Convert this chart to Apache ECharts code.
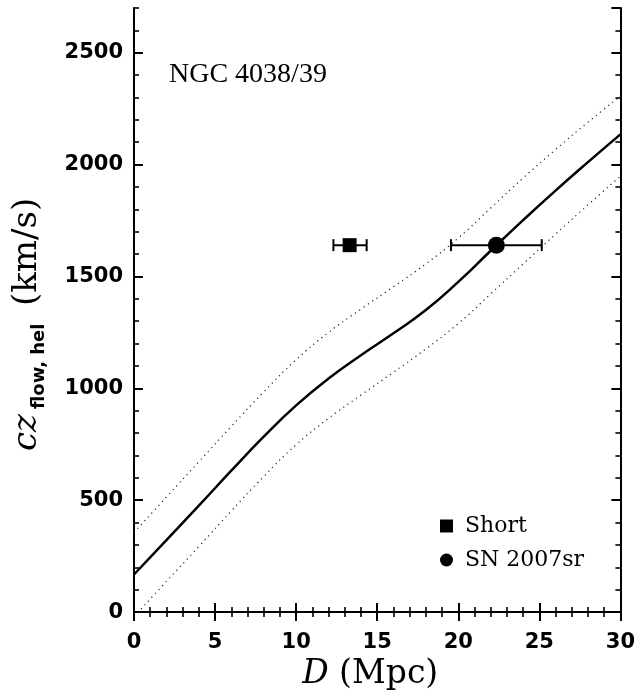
<!DOCTYPE html>
<html><head><meta charset="utf-8">
<script src="https://cdn.jsdelivr.net/npm/echarts@6/dist/echarts.min.js"></script>
<style>html,body{margin:0;padding:0;background:#fff}#c{width:638px;height:696px}</style>
</head><body><div id="c"></div>
<script>
// Flow model curve and its dispersion band (D in Mpc, cz in km/s)
const distance = [0, 2, 4, 6, 8, 10, 12, 14, 16, 18, 20, 22, 24, 26, 28, 30];
const czModel  = [168, 322, 476, 632, 784, 924, 1044, 1148, 1246, 1350, 1476, 1615, 1752, 1884, 2011, 2135];
const czUpper  = [356, 514, 672, 830, 984, 1128, 1250, 1354, 1454, 1556, 1672, 1806, 1940, 2067, 2190, 2306];
const czLower  = [-20, 137, 293, 452, 606, 748, 866, 970, 1072, 1176, 1290, 1422, 1556, 1689, 1820, 1948];

// Distance measurements
const pointNames = ['Short', 'SN 2007sr'];
const pointD     = [13.3, 22.35];
const pointDLow  = [12.3, 19.55];
const pointDHigh = [14.35, 25.15];
const pointCz    = [1640, 1640];

const xMin = 0, xMax = 30, xMajor = 5, xMinor = 1;
const yMin = 0, yMax = 2700, yMajor = 500, yMinor = 100;

const pairs = (xs, ys) => xs.map((x, i) => [x, ys[i]]);

const chart = echarts.init(document.getElementById('c'), null, {renderer: 'canvas'});

const axisLineStyle = {show: true, lineStyle: {color: '#000', width: 2}};
const labelFont = {fontFamily: 'DejaVu Sans', fontWeight: 'bold', fontSize: 21, color: '#000',
  formatter: v => String(v)};

function xAx(pos, labels) {
  return {
    type: 'value', position: pos, min: xMin, max: xMax, interval: xMajor,
    axisLine: axisLineStyle,
    axisTick: {show: true, inside: true, length: 9, lineStyle: {color: '#000', width: 2}},
    minorTick: {show: true, splitNumber: xMajor / xMinor, length: 5, lineStyle: {color: '#000', width: 1.6}},
    splitLine: {show: false}, minorSplitLine: {show: false},
    axisLabel: labels ? Object.assign({show: true, margin: 20}, labelFont) : {show: false},
    name: labels ? '{i|D} (Mpc)' : '',
    nameLocation: 'middle', nameGap: 44,
    nameTextStyle: {fontFamily: 'DejaVu Serif', fontSize: 33, color: '#000', padding: [0, 14, 0, 0],
      rich: {i: {fontFamily: 'DejaVu Serif', fontStyle: 'italic', fontSize: 33, color: '#000'}}}
  };
}
function yAx(pos, step, len, labels, line) {
  return {
    type: 'value', position: pos, min: yMin, max: yMax, interval: step,
    axisLine: line ? axisLineStyle : {show: false},
    axisTick: {show: true, inside: true, length: len, lineStyle: {color: '#000', width: len > 6 ? 2 : 1.6}},
    splitLine: {show: false},
    axisLabel: labels ? Object.assign({show: true, margin: 11, showMaxLabel: false}, labelFont) : {show: false}
  };
}

const option = {
  animation: false,
  backgroundColor: '#fff',
  grid: {left: 134, right: 17, top: 8, bottom: 81, containLabel: false},
  title: {text: 'NGC 4038/39', left: 164, top: 56,
    textStyle: {fontFamily: 'Liberation Serif', fontSize: 28, fontWeight: 'normal', color: '#000'}},
  legend: {
    orient: 'vertical', left: 435, top: 510, itemWidth: 13, itemHeight: 13, itemGap: 12,
    data: [{name: pointNames[0], icon: 'rect'}, {name: pointNames[1], icon: 'circle'}],
    textStyle: {fontFamily: 'DejaVu Serif', fontSize: 22, color: '#000', padding: [0, 0, 0, 7]},
    itemStyle: {color: '#000', opacity: 1}
  },
  xAxis: [xAx('bottom', true), xAx('top', false)],
  yAxis: [yAx('left', yMajor, 9, true, true), yAx('left', yMinor, 5, false, false),
          yAx('right', yMajor, 9, false, true), yAx('right', yMinor, 5, false, false)],
  graphic: [
    {type: 'text', x: 27, y: 451, rotation: Math.PI / 2,
     style: {text: 'cz', font: 'italic 34px "DejaVu Serif"', fill: '#000', align: 'left', verticalAlign: 'middle'}},
    {type: 'text', x: 39, y: 409, rotation: Math.PI / 2,
     style: {text: 'flow, hel', font: 'bold 18px "DejaVu Sans"', fill: '#000', align: 'left', verticalAlign: 'middle'}},
    {type: 'text', x: 27, y: 306, rotation: Math.PI / 2,
     style: {text: '(km/s)', font: '34px "DejaVu Serif"', fill: '#000', align: 'left', verticalAlign: 'middle'}}
  ],
  series: [
    {type: 'line', name: 'model', data: pairs(distance, czModel), smooth: 0.5, symbol: 'none', clip: true,
     lineStyle: {color: '#000', width: 2.5}, z: 3},
    {type: 'line', name: 'upper', data: pairs(distance, czUpper), smooth: 0.5, symbol: 'none', clip: true,
     lineStyle: {color: '#222', width: 1.2, type: [1.2, 4]}, z: 2},
    {type: 'line', name: 'lower', data: pairs(distance, czLower), smooth: 0.5, symbol: 'none', clip: true,
     lineStyle: {color: '#222', width: 1.2, type: [1.2, 4]}, z: 2},
    {type: 'custom', name: 'errors', z: 4,
     data: pointD.map((d, i) => [pointDLow[i], pointDHigh[i], pointCz[i]]),
     renderItem: function (params, api) {
       const a = api.coord([api.value(0), api.value(2)]);
       const b = api.coord([api.value(1), api.value(2)]);
       const h = 6;
       const st = {stroke: '#000', lineWidth: 2};
       return {type: 'group', children: [
         {type: 'line', shape: {x1: a[0], y1: a[1], x2: b[0], y2: b[1]}, style: st},
         {type: 'line', shape: {x1: a[0], y1: a[1] - h, x2: a[0], y2: a[1] + h}, style: st},
         {type: 'line', shape: {x1: b[0], y1: b[1] - h, x2: b[0], y2: b[1] + h}, style: st}
       ]};
     }},
    {type: 'scatter', name: pointNames[0], data: [[pointD[0], pointCz[0]]], symbol: 'rect', symbolSize: 14,
     itemStyle: {color: '#000', opacity: 1}, z: 5},
    {type: 'scatter', name: pointNames[1], data: [[pointD[1], pointCz[1]]], symbol: 'circle', symbolSize: 17,
     itemStyle: {color: '#000', opacity: 1}, z: 5}
  ]
};
chart.setOption(option);
</script>
</body></html>
